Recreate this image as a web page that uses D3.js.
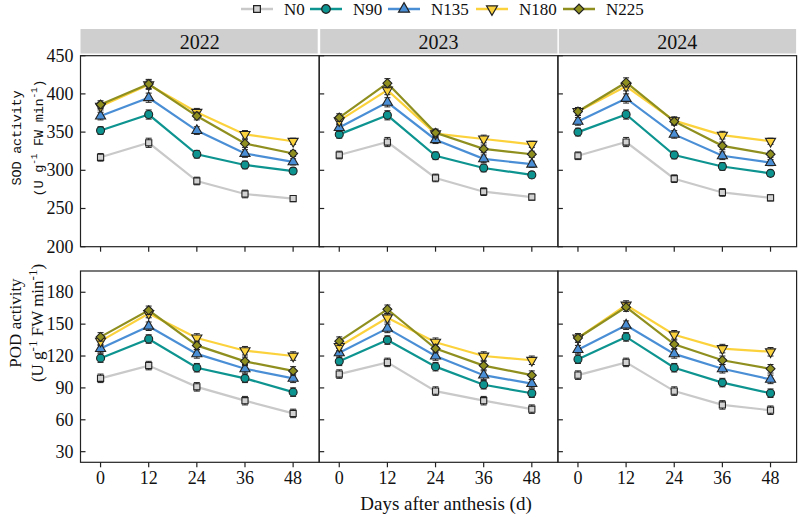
<!DOCTYPE html>
<html>
<head>
<meta charset="utf-8">
<script src="https://cdn.jsdelivr.net/npm/d3@7"></script>
<style>
  body { margin: 0; background: #fff; }
  text { font-family: "Liberation Serif", "Times New Roman", serif; fill: #111; }
</style>
</head>
<body>
<div id="chart"></div>
<script>
// ---- data ----
var days       = [0, 12, 24, 36, 48];
var years      = ['2022', '2023', '2024'];
var treatments = ['N0', 'N90', 'N135', 'N180', 'N225'];

// SOD activity, rows follow treatments order
var sod2022 = [[317, 336, 286, 269, 263],
               [352, 373, 321, 307, 299],
               [371, 395, 352, 322, 311],
               [384, 412, 376, 347, 338],
               [386, 413, 371, 335, 322]];
var sod2023 = [[320, 337, 290, 272, 265],
               [347, 372, 319, 303, 294],
               [356, 389, 340, 315, 308],
               [365, 405, 348, 341, 334],
               [369, 414, 349, 328, 321]];
var sod2024 = [[319, 337, 289, 271, 264],
               [350, 373, 320, 305, 296],
               [364, 394, 347, 319, 310],
               [377, 410, 365, 346, 338],
               [377, 415, 364, 332, 321]];

// POD activity
var pod2022 = [[99, 111, 91, 78, 66],
               [118, 136, 109, 99, 86],
               [127, 148, 122, 108, 99],
               [134, 160, 137, 125, 120],
               [138, 163, 130, 115, 106]];
var pod2023 = [[103, 114, 87, 78, 70],
               [115, 135, 110, 93, 85],
               [123, 146, 120, 102, 94],
               [129, 156, 133, 120, 116],
               [134, 164, 127, 111, 102]];
var pod2024 = [[102, 114, 87, 74, 69],
               [117, 138, 109, 95, 85],
               [126, 149, 122, 108, 98],
               [137, 168, 140, 127, 124],
               [137, 166, 131, 116, 108]];

// error bars (half length)
var sodErr = [5, 6, 5, 5, 4];
var podErr = [4, 4, 4, 4, 4];

var sodTicks = [200, 250, 300, 350, 400, 450];
var podTicks = [30, 60, 90, 120, 150, 180];

// ---- styling ----
var lineColours   = ['#c9c9c9', '#0e9490', '#4a8fd6', '#fcd23c', '#8f8f1f'];
var markerColours = ['#d2d2d2', '#0e9490', '#4a8fd6', '#fcd23c', '#8f8f1f'];
// diamond = square turned 45 degrees (d3's own diamond is too tall)
var markerShapes  = [d3.symbolSquare, d3.symbolCircle, d3.symbolTriangle, d3.symbolTriangle, d3.symbolSquare];
var markerSizes   = [38, 50, 44, 44, 40];
var markerRotate  = [0, 0, 0, 180, 45];

var W = 799, H = 517;
var left = 80.5, panelW = 238.7;
var topRow    = { y0: 55.7, y1: 246.7 };
var bottomRow = { y0: 271, y1: 462.3 };

var svg = d3.select('#chart').append('svg')
            .attr('width', W)
            .attr('height', H);

var x = d3.scaleLinear().domain([-5, 54.5]).range([0, panelW]);
var ySod = d3.scaleLinear().domain([200, 450]).range([topRow.y1 - topRow.y0, 0]);
var yPod = d3.scaleLinear().domain([20, 200]).range([bottomRow.y1 - bottomRow.y0, 0]);

var sodData = [sod2022, sod2023, sod2024];
var podData = [pod2022, pod2023, pod2024];

function drawPanel (px, row, y, data, err, ticks, firstCol, showX)
{
    var h = row.y1 - row.y0;
    var g = svg.append('g').attr('transform', 'translate(' + px + ',' + row.y0 + ')');

    var line = d3.line()
                 .x(function (d, i) { return x(days[i]); })
                 .y(function (d) { return y(d); });

    data.forEach(function (vals, s) {
        g.append('path')
         .attr('d', line(vals))
         .attr('fill', 'none')
         .attr('stroke', lineColours[s])
         .attr('stroke-width', 2.2);
    });

    // error bars + markers per series
    data.forEach(function (vals, s) {
        var sg = g.append('g');
        vals.forEach(function (v, i) {
            var cx = x(days[i]);
            var e = err[i];
            sg.append('line').attr('x1', cx).attr('x2', cx)
              .attr('y1', y(v - e)).attr('y2', y(v + e))
              .attr('stroke', '#222').attr('stroke-width', 1);
            [v - e, v + e].forEach(function (c) {
                sg.append('line').attr('x1', cx - 3).attr('x2', cx + 3)
                  .attr('y1', y(c)).attr('y2', y(c))
                  .attr('stroke', '#222').attr('stroke-width', 1);
            });
            sg.append('path')
              .attr('d', d3.symbol().type(markerShapes[s]).size(markerSizes[s])())
              .attr('transform', 'translate(' + cx + ',' + y(v) + ') rotate(' + markerRotate[s] + ')')
              .attr('fill', markerColours[s])
              .attr('stroke', '#222')
              .attr('stroke-width', 1.1);
        });
    });

    // frame
    g.append('rect').attr('x', 0).attr('y', 0).attr('width', panelW).attr('height', h)
     .attr('fill', 'none').attr('stroke', '#222').attr('stroke-width', 1.2);

    // y ticks (inward)
    ticks.forEach(function (t) {
        g.append('line').attr('x1', 0).attr('x2', 5)
         .attr('y1', y(t)).attr('y2', y(t))
         .attr('stroke', '#222').attr('stroke-width', 1.2);
        if (firstCol)
            g.append('text').attr('x', -7).attr('y', y(t) + 6)
             .attr('text-anchor', 'end').style('font-size', '18px').text(t);
    });

    // x ticks (outward)
    days.forEach(function (d) {
        g.append('line').attr('x1', x(d)).attr('x2', x(d))
         .attr('y1', h).attr('y2', h + 5)
         .attr('stroke', '#222').attr('stroke-width', 1.2);
        if (showX)
            g.append('text').attr('x', x(d)).attr('y', h + 22)
             .attr('text-anchor', 'middle').style('font-size', '18px').text(d);
    });
}

years.forEach(function (yr, k) {
    var px = left + k * panelW;

    // strip
    svg.append('rect').attr('x', px + (k == 0 ? 0 : 1)).attr('y', 29)
       .attr('width', panelW - 1.5).attr('height', 24.5)
       .attr('fill', '#cfcfcf');
    svg.append('text').attr('x', px + panelW / 2).attr('y', 48.5)
       .attr('text-anchor', 'middle').style('font-size', '20px').text(yr);

    drawPanel(px, topRow, ySod, sodData[k], sodErr, sodTicks, k == 0, false);
    drawPanel(px, bottomRow, yPod, podData[k], podErr, podTicks, k == 0, true);
});

// x axis title
svg.append('text').attr('x', 446).attr('y', 510)
   .attr('text-anchor', 'middle').style('font-size', '19px')
   .text('Days after anthesis (d)');

// y axis titles
function yTitle (cx, cy, line1, font, size, ls)
{
    var t = svg.append('g').attr('transform', 'translate(' + cx + ',' + cy + ') rotate(-90)');
    t.append('text').attr('x', 0).attr('y', 0)
     .attr('text-anchor', 'middle')
     .style('font-family', font).style('font-size', size + 'px')
     .style('letter-spacing', ls + 'px')
     .text(line1);
    var t2 = t.append('text').attr('x', 0).attr('y', 22)
              .attr('text-anchor', 'middle')
              .style('font-family', font).style('font-size', size + 'px')
              .style('letter-spacing', ls + 'px');
    t2.append('tspan').text('(U g');
    t2.append('tspan').attr('dy', -6).style('font-size', (size - 4) + 'px').text('-1');
    t2.append('tspan').attr('dy', 6).text(' FW min');
    t2.append('tspan').attr('dy', -6).style('font-size', (size - 4) + 'px').text('-1');
    t2.append('tspan').attr('dy', 6).text(')');
}
yTitle(21, 138, 'SOD activity', '"Liberation Mono", monospace', 13.5, -0.2);
yTitle(21, 323, 'POD activity', '"Liberation Serif", serif', 17, 0);

// legend
var legX = [241, 310, 388, 476, 563];
var lg = svg.append('g');
treatments.forEach(function (name, s) {
    var lx = legX[s];
    lg.append('line').attr('x1', lx).attr('x2', lx + 32)
      .attr('y1', 9).attr('y2', 9)
      .attr('stroke', lineColours[s]).attr('stroke-width', 2.5);
    lg.append('path')
      .attr('d', d3.symbol().type(markerShapes[s]).size(markerSizes[s] + 8)())
      .attr('transform', 'translate(' + (lx + 16) + ',9) rotate(' + markerRotate[s] + ')')
      .attr('fill', markerColours[s]).attr('stroke', '#222').attr('stroke-width', 1.2);
    lg.append('text').attr('x', lx + 43).attr('y', 15)
      .style('font-size', '17px').text(name);
});
</script>
</body>
</html>
